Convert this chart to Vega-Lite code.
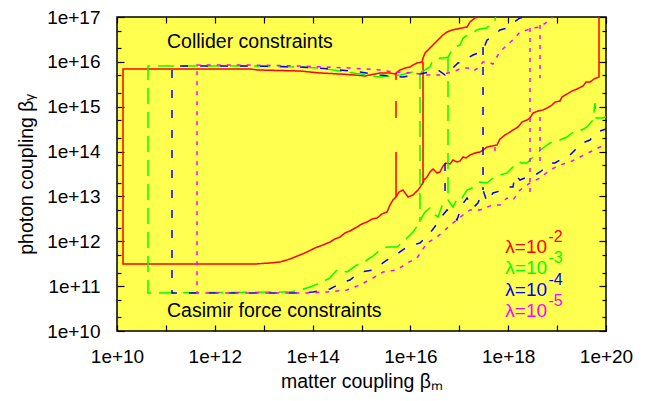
{
"$schema": "https://vega.github.io/schema/vega-lite/v6.json",
"width": 489, "height": 314,
"autosize": {"type": "none"},
"padding": {"left": 117, "top": 17, "right": 46, "bottom": 70},
"background": "white",
"config": {
  "view": {"fill": "#ffff50", "stroke": "black", "strokeWidth": 1.5},
  "axis": {"domain": false, "grid": false, "labelFont": "Liberation Sans", "labelFontSize": 19, "labelColor": "black", "tickColor": "black", "tickWidth": 1.2, "titleFont": "Liberation Sans", "titleFontSize": 19.5, "titleFontWeight": "normal", "titleColor": "black", "labelFlush": false, "labelOverlap": false},
  "text": {"font": "Liberation Sans"}
},
"datasets": {
"curves": [
{"lam":"1e-2","seg":"r1","i":0,"log_bm":19.857,"log_bg":17.267},
{"lam":"1e-2","seg":"r1","i":1,"log_bm":19.857,"log_bg":15.662},
{"lam":"1e-2","seg":"r1","i":2,"log_bm":19.755,"log_bg":15.618},
{"lam":"1e-2","seg":"r1","i":3,"log_bm":19.673,"log_bg":15.551},
{"lam":"1e-2","seg":"r1","i":4,"log_bm":19.591,"log_bg":15.551},
{"lam":"1e-2","seg":"r1","i":5,"log_bm":19.530,"log_bg":15.462},
{"lam":"1e-2","seg":"r1","i":6,"log_bm":19.407,"log_bg":15.395},
{"lam":"1e-2","seg":"r1","i":7,"log_bm":19.305,"log_bg":15.350},
{"lam":"1e-2","seg":"r1","i":8,"log_bm":19.203,"log_bg":15.284},
{"lam":"1e-2","seg":"r1","i":9,"log_bm":19.100,"log_bg":15.217},
{"lam":"1e-2","seg":"r1","i":10,"log_bm":19.059,"log_bg":15.127},
{"lam":"1e-2","seg":"r1","i":11,"log_bm":18.957,"log_bg":15.105},
{"lam":"1e-2","seg":"r1","i":12,"log_bm":18.896,"log_bg":15.038},
{"lam":"1e-2","seg":"r1","i":13,"log_bm":18.794,"log_bg":14.971},
{"lam":"1e-2","seg":"r1","i":14,"log_bm":18.712,"log_bg":14.927},
{"lam":"1e-2","seg":"r1","i":15,"log_bm":18.609,"log_bg":14.905},
{"lam":"1e-2","seg":"r1","i":16,"log_bm":18.507,"log_bg":14.860},
{"lam":"1e-2","seg":"r1","i":17,"log_bm":18.446,"log_bg":14.749},
{"lam":"1e-2","seg":"r1","i":18,"log_bm":18.385,"log_bg":14.704},
{"lam":"1e-2","seg":"r1","i":19,"log_bm":18.282,"log_bg":14.659},
{"lam":"1e-2","seg":"r1","i":20,"log_bm":18.200,"log_bg":14.548},
{"lam":"1e-2","seg":"r1","i":21,"log_bm":18.098,"log_bg":14.481},
{"lam":"1e-2","seg":"r1","i":22,"log_bm":18.037,"log_bg":14.436},
{"lam":"1e-2","seg":"r1","i":23,"log_bm":17.935,"log_bg":14.370},
{"lam":"1e-2","seg":"r1","i":24,"log_bm":17.832,"log_bg":14.280},
{"lam":"1e-2","seg":"r1","i":25,"log_bm":17.771,"log_bg":14.147},
{"lam":"1e-2","seg":"r1","i":26,"log_bm":17.669,"log_bg":14.124},
{"lam":"1e-2","seg":"r1","i":27,"log_bm":17.567,"log_bg":14.102},
{"lam":"1e-2","seg":"r1","i":28,"log_bm":17.485,"log_bg":14.035},
{"lam":"1e-2","seg":"r1","i":29,"log_bm":17.423,"log_bg":13.991},
{"lam":"1e-2","seg":"r1","i":30,"log_bm":17.321,"log_bg":13.968},
{"lam":"1e-2","seg":"r1","i":31,"log_bm":17.219,"log_bg":13.924},
{"lam":"1e-2","seg":"r1","i":32,"log_bm":17.137,"log_bg":13.857},
{"lam":"1e-2","seg":"r1","i":33,"log_bm":17.076,"log_bg":13.879},
{"lam":"1e-2","seg":"r1","i":34,"log_bm":17.014,"log_bg":13.790},
{"lam":"1e-2","seg":"r1","i":35,"log_bm":16.953,"log_bg":13.768},
{"lam":"1e-2","seg":"r1","i":36,"log_bm":16.871,"log_bg":13.812},
{"lam":"1e-2","seg":"r1","i":37,"log_bm":16.810,"log_bg":13.723},
{"lam":"1e-2","seg":"r1","i":38,"log_bm":16.728,"log_bg":13.745},
{"lam":"1e-2","seg":"r1","i":39,"log_bm":16.667,"log_bg":13.679},
{"lam":"1e-2","seg":"r1","i":40,"log_bm":16.605,"log_bg":13.545},
{"lam":"1e-2","seg":"r1","i":41,"log_bm":16.544,"log_bg":13.522},
{"lam":"1e-2","seg":"r1","i":42,"log_bm":16.462,"log_bg":13.612},
{"lam":"1e-2","seg":"r1","i":43,"log_bm":16.401,"log_bg":13.545},
{"lam":"1e-2","seg":"r1","i":44,"log_bm":16.340,"log_bg":13.433},
{"lam":"1e-2","seg":"r1","i":45,"log_bm":16.278,"log_bg":13.366},
{"lam":"1e-2","seg":"r1","i":46,"log_bm":16.258,"log_bg":13.300},
{"lam":"1e-2","seg":"r1","i":47,"log_bm":16.155,"log_bg":13.143},
{"lam":"1e-2","seg":"r1","i":48,"log_bm":16.053,"log_bg":13.032},
{"lam":"1e-2","seg":"r1","i":49,"log_bm":15.951,"log_bg":12.987},
{"lam":"1e-2","seg":"r1","i":50,"log_bm":15.849,"log_bg":13.143},
{"lam":"1e-2","seg":"r1","i":51,"log_bm":15.767,"log_bg":13.099},
{"lam":"1e-2","seg":"r1","i":52,"log_bm":15.706,"log_bg":12.987},
{"lam":"1e-2","seg":"r1","i":53,"log_bm":15.644,"log_bg":12.921},
{"lam":"1e-2","seg":"r1","i":54,"log_bm":15.583,"log_bg":12.809},
{"lam":"1e-2","seg":"r1","i":55,"log_bm":15.522,"log_bg":12.653},
{"lam":"1e-2","seg":"r1","i":56,"log_bm":15.419,"log_bg":12.609},
{"lam":"1e-2","seg":"r1","i":57,"log_bm":15.317,"log_bg":12.519},
{"lam":"1e-2","seg":"r1","i":58,"log_bm":15.215,"log_bg":12.497},
{"lam":"1e-2","seg":"r1","i":59,"log_bm":15.113,"log_bg":12.430},
{"lam":"1e-2","seg":"r1","i":60,"log_bm":15.010,"log_bg":12.386},
{"lam":"1e-2","seg":"r1","i":61,"log_bm":14.908,"log_bg":12.319},
{"lam":"1e-2","seg":"r1","i":62,"log_bm":14.765,"log_bg":12.230},
{"lam":"1e-2","seg":"r1","i":63,"log_bm":14.663,"log_bg":12.185},
{"lam":"1e-2","seg":"r1","i":64,"log_bm":14.560,"log_bg":12.096},
{"lam":"1e-2","seg":"r1","i":65,"log_bm":14.458,"log_bg":12.051},
{"lam":"1e-2","seg":"r1","i":66,"log_bm":14.356,"log_bg":11.984},
{"lam":"1e-2","seg":"r1","i":67,"log_bm":14.213,"log_bg":11.918},
{"lam":"1e-2","seg":"r1","i":68,"log_bm":14.049,"log_bg":11.851},
{"lam":"1e-2","seg":"r1","i":69,"log_bm":13.886,"log_bg":11.762},
{"lam":"1e-2","seg":"r1","i":70,"log_bm":13.742,"log_bg":11.695},
{"lam":"1e-2","seg":"r1","i":71,"log_bm":13.538,"log_bg":11.605},
{"lam":"1e-2","seg":"r1","i":72,"log_bm":13.333,"log_bg":11.538},
{"lam":"1e-2","seg":"r1","i":73,"log_bm":13.129,"log_bg":11.516},
{"lam":"1e-2","seg":"r1","i":74,"log_bm":12.822,"log_bg":11.494},
{"lam":"1e-2","seg":"r1","i":75,"log_bm":10.123,"log_bg":11.494},
{"lam":"1e-2","seg":"r1","i":76,"log_bm":10.123,"log_bg":15.841},
{"lam":"1e-2","seg":"r1","i":77,"log_bm":12.720,"log_bg":15.841},
{"lam":"1e-2","seg":"r1","i":78,"log_bm":12.883,"log_bg":15.819},
{"lam":"1e-2","seg":"r1","i":79,"log_bm":13.742,"log_bg":15.796},
{"lam":"1e-2","seg":"r1","i":80,"log_bm":14.151,"log_bg":15.752},
{"lam":"1e-2","seg":"r1","i":81,"log_bm":14.560,"log_bg":15.729},
{"lam":"1e-2","seg":"r1","i":82,"log_bm":14.867,"log_bg":15.707},
{"lam":"1e-2","seg":"r1","i":83,"log_bm":15.072,"log_bg":15.685},
{"lam":"1e-2","seg":"r1","i":84,"log_bm":15.378,"log_bg":15.752},
{"lam":"1e-2","seg":"r1","i":85,"log_bm":15.583,"log_bg":15.752},
{"lam":"1e-2","seg":"r1","i":86,"log_bm":15.685,"log_bg":15.729},
{"lam":"1e-2","seg":"r1","i":87,"log_bm":15.787,"log_bg":15.819},
{"lam":"1e-2","seg":"r1","i":88,"log_bm":15.890,"log_bg":15.863},
{"lam":"1e-2","seg":"r1","i":89,"log_bm":15.992,"log_bg":15.885},
{"lam":"1e-2","seg":"r1","i":90,"log_bm":16.053,"log_bg":15.930},
{"lam":"1e-2","seg":"r1","i":91,"log_bm":16.135,"log_bg":15.975},
{"lam":"1e-2","seg":"r1","i":92,"log_bm":16.237,"log_bg":15.997},
{"lam":"1e-2","seg":"r1","i":93,"log_bm":16.258,"log_bg":16.086},
{"lam":"1e-2","seg":"r1","i":94,"log_bm":16.299,"log_bg":16.197},
{"lam":"1e-2","seg":"r1","i":95,"log_bm":16.401,"log_bg":16.309},
{"lam":"1e-2","seg":"r1","i":96,"log_bm":16.503,"log_bg":16.420},
{"lam":"1e-2","seg":"r1","i":97,"log_bm":16.605,"log_bg":16.532},
{"lam":"1e-2","seg":"r1","i":98,"log_bm":16.667,"log_bg":16.599},
{"lam":"1e-2","seg":"r1","i":99,"log_bm":16.749,"log_bg":16.666},
{"lam":"1e-2","seg":"r1","i":100,"log_bm":16.851,"log_bg":16.710},
{"lam":"1e-2","seg":"r1","i":101,"log_bm":16.953,"log_bg":16.733},
{"lam":"1e-2","seg":"r1","i":102,"log_bm":17.055,"log_bg":16.755},
{"lam":"1e-2","seg":"r1","i":103,"log_bm":17.158,"log_bg":16.777},
{"lam":"1e-2","seg":"r1","i":104,"log_bm":17.219,"log_bg":16.889},
{"lam":"1e-2","seg":"r1","i":105,"log_bm":17.321,"log_bg":16.978},
{"lam":"1e-2","seg":"r1","i":106,"log_bm":17.423,"log_bg":17.000},
{"lam":"1e-2","seg":"r1","i":107,"log_bm":17.526,"log_bg":17.267},
{"lam":"1e-2","seg":"r2","i":0,"log_bm":16.258,"log_bg":15.997},
{"lam":"1e-2","seg":"r2","i":1,"log_bm":16.258,"log_bg":13.300},
{"lam":"1e-2","seg":"r3","i":0,"log_bm":15.706,"log_bg":15.752},
{"lam":"1e-2","seg":"r3","i":1,"log_bm":15.706,"log_bg":15.596},
{"lam":"1e-2","seg":"r4","i":0,"log_bm":15.706,"log_bg":15.127},
{"lam":"1e-2","seg":"r4","i":1,"log_bm":15.706,"log_bg":14.749},
{"lam":"1e-2","seg":"r5","i":0,"log_bm":15.706,"log_bg":13.991},
{"lam":"1e-2","seg":"r5","i":1,"log_bm":15.706,"log_bg":12.987},
{"lam":"1e-3","seg":"g1","i":0,"log_bm":17.791,"log_bg":17.267},
{"lam":"1e-3","seg":"g1","i":1,"log_bm":17.730,"log_bg":16.933},
{"lam":"1e-3","seg":"g1","i":2,"log_bm":17.628,"log_bg":16.844},
{"lam":"1e-3","seg":"g1","i":3,"log_bm":17.567,"log_bg":16.755},
{"lam":"1e-3","seg":"g1","i":4,"log_bm":17.423,"log_bg":16.733},
{"lam":"1e-3","seg":"g1","i":5,"log_bm":17.362,"log_bg":16.710},
{"lam":"1e-3","seg":"g1","i":6,"log_bm":17.260,"log_bg":16.643},
{"lam":"1e-3","seg":"g1","i":7,"log_bm":17.178,"log_bg":16.599},
{"lam":"1e-3","seg":"g1","i":8,"log_bm":17.076,"log_bg":16.532},
{"lam":"1e-3","seg":"g1","i":9,"log_bm":17.014,"log_bg":16.376},
{"lam":"1e-3","seg":"g1","i":10,"log_bm":16.912,"log_bg":16.331},
{"lam":"1e-3","seg":"g1","i":11,"log_bm":16.851,"log_bg":16.264},
{"lam":"1e-3","seg":"g1","i":12,"log_bm":16.769,"log_bg":16.108},
{"lam":"1e-3","seg":"g1","i":13,"log_bm":16.708,"log_bg":16.086},
{"lam":"1e-3","seg":"g1","i":14,"log_bm":16.605,"log_bg":16.086},
{"lam":"1e-3","seg":"g1","i":15,"log_bm":16.564,"log_bg":16.041},
{"lam":"1e-3","seg":"g1","i":16,"log_bm":16.442,"log_bg":15.997},
{"lam":"1e-3","seg":"g1","i":17,"log_bm":16.401,"log_bg":15.885},
{"lam":"1e-3","seg":"g1","i":18,"log_bm":16.299,"log_bg":15.819},
{"lam":"1e-3","seg":"g1","i":19,"log_bm":16.196,"log_bg":15.752},
{"lam":"1e-3","seg":"g1","i":20,"log_bm":16.053,"log_bg":15.774},
{"lam":"1e-3","seg":"g1","i":21,"log_bm":15.787,"log_bg":15.707},
{"lam":"1e-3","seg":"g1","i":22,"log_bm":15.378,"log_bg":15.662},
{"lam":"1e-3","seg":"g1","i":23,"log_bm":14.969,"log_bg":15.729},
{"lam":"1e-3","seg":"g1","i":24,"log_bm":14.560,"log_bg":15.796},
{"lam":"1e-3","seg":"g1","i":25,"log_bm":14.151,"log_bg":15.863},
{"lam":"1e-3","seg":"g1","i":26,"log_bm":13.742,"log_bg":15.885},
{"lam":"1e-3","seg":"g1","i":27,"log_bm":12.720,"log_bg":15.908},
{"lam":"1e-3","seg":"g1","i":28,"log_bm":10.634,"log_bg":15.908},
{"lam":"1e-3","seg":"g1","i":29,"log_bm":10.634,"log_bg":10.847},
{"lam":"1e-3","seg":"g1","i":30,"log_bm":13.538,"log_bg":10.870},
{"lam":"1e-3","seg":"g1","i":31,"log_bm":13.742,"log_bg":10.914},
{"lam":"1e-3","seg":"g1","i":32,"log_bm":13.947,"log_bg":10.981},
{"lam":"1e-3","seg":"g1","i":33,"log_bm":14.151,"log_bg":11.070},
{"lam":"1e-3","seg":"g1","i":34,"log_bm":14.356,"log_bg":11.182},
{"lam":"1e-3","seg":"g1","i":35,"log_bm":14.499,"log_bg":11.360},
{"lam":"1e-3","seg":"g1","i":36,"log_bm":14.704,"log_bg":11.316},
{"lam":"1e-3","seg":"g1","i":37,"log_bm":14.908,"log_bg":11.472},
{"lam":"1e-3","seg":"g1","i":38,"log_bm":15.113,"log_bg":11.583},
{"lam":"1e-3","seg":"g1","i":39,"log_bm":15.235,"log_bg":11.672},
{"lam":"1e-3","seg":"g1","i":40,"log_bm":15.378,"log_bg":11.806},
{"lam":"1e-3","seg":"g1","i":41,"log_bm":15.522,"log_bg":11.873},
{"lam":"1e-3","seg":"g1","i":42,"log_bm":15.726,"log_bg":11.873},
{"lam":"1e-3","seg":"g1","i":43,"log_bm":15.849,"log_bg":11.984},
{"lam":"1e-3","seg":"g1","i":44,"log_bm":15.931,"log_bg":12.073},
{"lam":"1e-3","seg":"g1","i":45,"log_bm":16.053,"log_bg":12.207},
{"lam":"1e-3","seg":"g1","i":46,"log_bm":16.155,"log_bg":12.363},
{"lam":"1e-3","seg":"g1","i":47,"log_bm":16.196,"log_bg":12.430},
{"lam":"1e-3","seg":"g1","i":48,"log_bm":16.237,"log_bg":12.542},
{"lam":"1e-3","seg":"g1","i":49,"log_bm":16.299,"log_bg":12.653},
{"lam":"1e-3","seg":"g1","i":50,"log_bm":16.401,"log_bg":12.742},
{"lam":"1e-3","seg":"g1","i":51,"log_bm":16.503,"log_bg":12.586},
{"lam":"1e-3","seg":"g1","i":52,"log_bm":16.564,"log_bg":12.542},
{"lam":"1e-3","seg":"g1","i":53,"log_bm":16.667,"log_bg":12.854},
{"lam":"1e-3","seg":"g1","i":54,"log_bm":16.769,"log_bg":12.921},
{"lam":"1e-3","seg":"g1","i":55,"log_bm":16.871,"log_bg":12.764},
{"lam":"1e-3","seg":"g1","i":56,"log_bm":16.974,"log_bg":12.987},
{"lam":"1e-3","seg":"g1","i":57,"log_bm":17.055,"log_bg":12.965},
{"lam":"1e-3","seg":"g1","i":58,"log_bm":17.158,"log_bg":13.143},
{"lam":"1e-3","seg":"g1","i":59,"log_bm":17.260,"log_bg":13.188},
{"lam":"1e-3","seg":"g1","i":60,"log_bm":17.423,"log_bg":13.322},
{"lam":"1e-3","seg":"g1","i":61,"log_bm":17.567,"log_bg":13.300},
{"lam":"1e-3","seg":"g1","i":62,"log_bm":17.689,"log_bg":13.411},
{"lam":"1e-3","seg":"g1","i":63,"log_bm":17.832,"log_bg":13.478},
{"lam":"1e-3","seg":"g1","i":64,"log_bm":17.976,"log_bg":13.522},
{"lam":"1e-3","seg":"g1","i":65,"log_bm":18.098,"log_bg":13.656},
{"lam":"1e-3","seg":"g1","i":66,"log_bm":18.200,"log_bg":13.768},
{"lam":"1e-3","seg":"g1","i":67,"log_bm":18.282,"log_bg":13.745},
{"lam":"1e-3","seg":"g1","i":68,"log_bm":18.385,"log_bg":13.745},
{"lam":"1e-3","seg":"g1","i":69,"log_bm":18.487,"log_bg":13.857},
{"lam":"1e-3","seg":"g1","i":70,"log_bm":18.589,"log_bg":13.968},
{"lam":"1e-3","seg":"g1","i":71,"log_bm":18.712,"log_bg":14.080},
{"lam":"1e-3","seg":"g1","i":72,"log_bm":18.855,"log_bg":14.191},
{"lam":"1e-3","seg":"g1","i":73,"log_bm":18.957,"log_bg":14.236},
{"lam":"1e-3","seg":"g1","i":74,"log_bm":19.059,"log_bg":14.258},
{"lam":"1e-3","seg":"g1","i":75,"log_bm":19.203,"log_bg":14.325},
{"lam":"1e-3","seg":"g1","i":76,"log_bm":19.305,"log_bg":14.414},
{"lam":"1e-3","seg":"g1","i":77,"log_bm":19.407,"log_bg":14.481},
{"lam":"1e-3","seg":"g1","i":78,"log_bm":19.509,"log_bg":14.481},
{"lam":"1e-3","seg":"g1","i":79,"log_bm":19.611,"log_bg":14.548},
{"lam":"1e-3","seg":"g1","i":80,"log_bm":19.734,"log_bg":14.704},
{"lam":"1e-3","seg":"g1","i":81,"log_bm":19.775,"log_bg":15.083},
{"lam":"1e-3","seg":"g1","i":82,"log_bm":19.796,"log_bg":14.749},
{"lam":"1e-3","seg":"g1","i":83,"log_bm":19.918,"log_bg":14.749},
{"lam":"1e-3","seg":"g1","i":84,"log_bm":20.000,"log_bg":14.771},
{"lam":"1e-3","seg":"g1","i":85,"log_bm":20.184,"log_bg":14.815},
{"lam":"1e-3","seg":"g2","i":0,"log_bm":16.196,"log_bg":15.752},
{"lam":"1e-3","seg":"g2","i":1,"log_bm":16.196,"log_bg":12.430},
{"lam":"1e-3","seg":"g3","i":0,"log_bm":16.769,"log_bg":16.108},
{"lam":"1e-3","seg":"g3","i":1,"log_bm":16.769,"log_bg":12.921},
{"lam":"1e-4","seg":"b1","i":0,"log_bm":18.446,"log_bg":17.267},
{"lam":"1e-4","seg":"b1","i":1,"log_bm":18.446,"log_bg":17.000},
{"lam":"1e-4","seg":"b1","i":2,"log_bm":18.241,"log_bg":16.978},
{"lam":"1e-4","seg":"b1","i":3,"log_bm":18.098,"log_bg":16.866},
{"lam":"1e-4","seg":"b1","i":4,"log_bm":17.976,"log_bg":16.755},
{"lam":"1e-4","seg":"b1","i":5,"log_bm":17.832,"log_bg":16.710},
{"lam":"1e-4","seg":"b1","i":6,"log_bm":17.669,"log_bg":16.554},
{"lam":"1e-4","seg":"b1","i":7,"log_bm":17.567,"log_bg":16.487},
{"lam":"1e-4","seg":"b1","i":8,"log_bm":17.485,"log_bg":16.264},
{"lam":"1e-4","seg":"b1","i":9,"log_bm":17.382,"log_bg":16.197},
{"lam":"1e-4","seg":"b1","i":10,"log_bm":17.280,"log_bg":16.153},
{"lam":"1e-4","seg":"b1","i":11,"log_bm":17.178,"log_bg":16.086},
{"lam":"1e-4","seg":"b1","i":12,"log_bm":17.076,"log_bg":15.997},
{"lam":"1e-4","seg":"b1","i":13,"log_bm":16.974,"log_bg":15.975},
{"lam":"1e-4","seg":"b1","i":14,"log_bm":16.871,"log_bg":15.863},
{"lam":"1e-4","seg":"b1","i":15,"log_bm":16.810,"log_bg":15.863},
{"lam":"1e-4","seg":"b1","i":16,"log_bm":16.708,"log_bg":15.707},
{"lam":"1e-4","seg":"b1","i":17,"log_bm":16.564,"log_bg":15.819},
{"lam":"1e-4","seg":"b1","i":18,"log_bm":16.401,"log_bg":15.774},
{"lam":"1e-4","seg":"b1","i":19,"log_bm":16.196,"log_bg":15.729},
{"lam":"1e-4","seg":"b1","i":20,"log_bm":15.849,"log_bg":15.662},
{"lam":"1e-4","seg":"b1","i":21,"log_bm":15.378,"log_bg":15.707},
{"lam":"1e-4","seg":"b1","i":22,"log_bm":14.969,"log_bg":15.774},
{"lam":"1e-4","seg":"b1","i":23,"log_bm":14.356,"log_bg":15.841},
{"lam":"1e-4","seg":"b1","i":24,"log_bm":13.742,"log_bg":15.885},
{"lam":"1e-4","seg":"b1","i":25,"log_bm":12.720,"log_bg":15.908},
{"lam":"1e-4","seg":"b1","i":26,"log_bm":11.125,"log_bg":15.908},
{"lam":"1e-4","seg":"b1","i":27,"log_bm":11.125,"log_bg":10.847},
{"lam":"1e-4","seg":"b1","i":28,"log_bm":13.742,"log_bg":10.847},
{"lam":"1e-4","seg":"b1","i":29,"log_bm":14.008,"log_bg":10.870},
{"lam":"1e-4","seg":"b1","i":30,"log_bm":14.356,"log_bg":10.937},
{"lam":"1e-4","seg":"b1","i":31,"log_bm":14.622,"log_bg":11.093},
{"lam":"1e-4","seg":"b1","i":32,"log_bm":14.765,"log_bg":11.137},
{"lam":"1e-4","seg":"b1","i":33,"log_bm":14.969,"log_bg":11.316},
{"lam":"1e-4","seg":"b1","i":34,"log_bm":15.235,"log_bg":11.360},
{"lam":"1e-4","seg":"b1","i":35,"log_bm":15.378,"log_bg":11.472},
{"lam":"1e-4","seg":"b1","i":36,"log_bm":15.522,"log_bg":11.583},
{"lam":"1e-4","seg":"b1","i":37,"log_bm":15.644,"log_bg":11.650},
{"lam":"1e-4","seg":"b1","i":38,"log_bm":15.787,"log_bg":11.762},
{"lam":"1e-4","seg":"b1","i":39,"log_bm":15.931,"log_bg":11.873},
{"lam":"1e-4","seg":"b1","i":40,"log_bm":16.053,"log_bg":11.918},
{"lam":"1e-4","seg":"b1","i":41,"log_bm":16.196,"log_bg":11.962},
{"lam":"1e-4","seg":"b1","i":42,"log_bm":16.401,"log_bg":12.185},
{"lam":"1e-4","seg":"b1","i":43,"log_bm":16.605,"log_bg":12.475},
{"lam":"1e-4","seg":"b1","i":44,"log_bm":16.667,"log_bg":12.586},
{"lam":"1e-4","seg":"b1","i":45,"log_bm":16.749,"log_bg":12.698},
{"lam":"1e-4","seg":"b1","i":46,"log_bm":16.871,"log_bg":12.631},
{"lam":"1e-4","seg":"b1","i":47,"log_bm":16.953,"log_bg":12.475},
{"lam":"1e-4","seg":"b1","i":48,"log_bm":17.055,"log_bg":12.809},
{"lam":"1e-4","seg":"b1","i":49,"log_bm":17.158,"log_bg":12.965},
{"lam":"1e-4","seg":"b1","i":50,"log_bm":17.280,"log_bg":12.742},
{"lam":"1e-4","seg":"b1","i":51,"log_bm":17.382,"log_bg":12.854},
{"lam":"1e-4","seg":"b1","i":52,"log_bm":17.485,"log_bg":13.143},
{"lam":"1e-4","seg":"b1","i":53,"log_bm":17.567,"log_bg":12.876},
{"lam":"1e-4","seg":"b1","i":54,"log_bm":17.689,"log_bg":13.077},
{"lam":"1e-4","seg":"b1","i":55,"log_bm":17.832,"log_bg":13.121},
{"lam":"1e-4","seg":"b1","i":56,"log_bm":17.976,"log_bg":13.210},
{"lam":"1e-4","seg":"b1","i":57,"log_bm":18.098,"log_bg":13.210},
{"lam":"1e-4","seg":"b1","i":58,"log_bm":18.139,"log_bg":13.478},
{"lam":"1e-4","seg":"b1","i":59,"log_bm":18.241,"log_bg":13.366},
{"lam":"1e-4","seg":"b1","i":60,"log_bm":18.344,"log_bg":13.411},
{"lam":"1e-4","seg":"b1","i":61,"log_bm":18.446,"log_bg":13.433},
{"lam":"1e-4","seg":"b1","i":62,"log_bm":18.548,"log_bg":13.478},
{"lam":"1e-4","seg":"b1","i":63,"log_bm":18.650,"log_bg":13.545},
{"lam":"1e-4","seg":"b1","i":64,"log_bm":18.753,"log_bg":13.634},
{"lam":"1e-4","seg":"b1","i":65,"log_bm":18.855,"log_bg":13.745},
{"lam":"1e-4","seg":"b1","i":66,"log_bm":18.957,"log_bg":13.745},
{"lam":"1e-4","seg":"b1","i":67,"log_bm":19.059,"log_bg":13.812},
{"lam":"1e-4","seg":"b1","i":68,"log_bm":19.162,"log_bg":13.879},
{"lam":"1e-4","seg":"b1","i":69,"log_bm":19.264,"log_bg":13.924},
{"lam":"1e-4","seg":"b1","i":70,"log_bm":19.366,"log_bg":14.035},
{"lam":"1e-4","seg":"b1","i":71,"log_bm":19.468,"log_bg":14.191},
{"lam":"1e-4","seg":"b1","i":72,"log_bm":19.571,"log_bg":14.214},
{"lam":"1e-4","seg":"b1","i":73,"log_bm":19.673,"log_bg":14.258},
{"lam":"1e-4","seg":"b1","i":74,"log_bm":19.816,"log_bg":14.436},
{"lam":"1e-4","seg":"b1","i":75,"log_bm":19.939,"log_bg":14.481},
{"lam":"1e-4","seg":"b1","i":76,"log_bm":20.000,"log_bg":14.503},
{"lam":"1e-4","seg":"b1","i":77,"log_bm":20.184,"log_bg":14.570},
{"lam":"1e-4","seg":"b2","i":0,"log_bm":17.485,"log_bg":16.331},
{"lam":"1e-4","seg":"b2","i":1,"log_bm":17.485,"log_bg":13.143},
{"lam":"1e-4","seg":"b3","i":0,"log_bm":16.708,"log_bg":13.745},
{"lam":"1e-4","seg":"b3","i":1,"log_bm":16.708,"log_bg":12.921},
{"lam":"1e-5","seg":"m1","i":0,"log_bm":18.916,"log_bg":17.267},
{"lam":"1e-5","seg":"m1","i":1,"log_bm":18.916,"log_bg":17.000},
{"lam":"1e-5","seg":"m1","i":2,"log_bm":18.794,"log_bg":16.889},
{"lam":"1e-5","seg":"m1","i":3,"log_bm":18.650,"log_bg":16.777},
{"lam":"1e-5","seg":"m1","i":4,"log_bm":18.507,"log_bg":16.755},
{"lam":"1e-5","seg":"m1","i":5,"log_bm":18.385,"log_bg":16.710},
{"lam":"1e-5","seg":"m1","i":6,"log_bm":18.241,"log_bg":16.666},
{"lam":"1e-5","seg":"m1","i":7,"log_bm":18.139,"log_bg":16.532},
{"lam":"1e-5","seg":"m1","i":8,"log_bm":17.976,"log_bg":16.376},
{"lam":"1e-5","seg":"m1","i":9,"log_bm":17.832,"log_bg":16.220},
{"lam":"1e-5","seg":"m1","i":10,"log_bm":17.791,"log_bg":16.153},
{"lam":"1e-5","seg":"m1","i":11,"log_bm":17.689,"log_bg":15.952},
{"lam":"1e-5","seg":"m1","i":12,"log_bm":17.587,"log_bg":15.997},
{"lam":"1e-5","seg":"m1","i":13,"log_bm":17.485,"log_bg":15.997},
{"lam":"1e-5","seg":"m1","i":14,"log_bm":17.382,"log_bg":15.863},
{"lam":"1e-5","seg":"m1","i":15,"log_bm":17.280,"log_bg":15.796},
{"lam":"1e-5","seg":"m1","i":16,"log_bm":17.178,"log_bg":15.863},
{"lam":"1e-5","seg":"m1","i":17,"log_bm":17.076,"log_bg":15.863},
{"lam":"1e-5","seg":"m1","i":18,"log_bm":16.851,"log_bg":15.774},
{"lam":"1e-5","seg":"m1","i":19,"log_bm":16.605,"log_bg":15.707},
{"lam":"1e-5","seg":"m1","i":20,"log_bm":16.340,"log_bg":15.707},
{"lam":"1e-5","seg":"m1","i":21,"log_bm":16.053,"log_bg":15.752},
{"lam":"1e-5","seg":"m1","i":22,"log_bm":15.644,"log_bg":15.774},
{"lam":"1e-5","seg":"m1","i":23,"log_bm":15.378,"log_bg":15.819},
{"lam":"1e-5","seg":"m1","i":24,"log_bm":14.765,"log_bg":15.863},
{"lam":"1e-5","seg":"m1","i":25,"log_bm":13.742,"log_bg":15.908},
{"lam":"1e-5","seg":"m1","i":26,"log_bm":12.720,"log_bg":15.930},
{"lam":"1e-5","seg":"m1","i":27,"log_bm":11.636,"log_bg":15.930},
{"lam":"1e-5","seg":"m1","i":28,"log_bm":11.636,"log_bg":10.847},
{"lam":"1e-5","seg":"m1","i":29,"log_bm":13.865,"log_bg":10.847},
{"lam":"1e-5","seg":"m1","i":30,"log_bm":14.295,"log_bg":10.870},
{"lam":"1e-5","seg":"m1","i":31,"log_bm":14.704,"log_bg":10.914},
{"lam":"1e-5","seg":"m1","i":32,"log_bm":14.969,"log_bg":11.026},
{"lam":"1e-5","seg":"m1","i":33,"log_bm":15.235,"log_bg":11.182},
{"lam":"1e-5","seg":"m1","i":34,"log_bm":15.440,"log_bg":11.316},
{"lam":"1e-5","seg":"m1","i":35,"log_bm":15.726,"log_bg":11.360},
{"lam":"1e-5","seg":"m1","i":36,"log_bm":15.931,"log_bg":11.516},
{"lam":"1e-5","seg":"m1","i":37,"log_bm":16.135,"log_bg":11.628},
{"lam":"1e-5","seg":"m1","i":38,"log_bm":16.340,"log_bg":11.962},
{"lam":"1e-5","seg":"m1","i":39,"log_bm":16.544,"log_bg":12.096},
{"lam":"1e-5","seg":"m1","i":40,"log_bm":16.708,"log_bg":12.252},
{"lam":"1e-5","seg":"m1","i":41,"log_bm":16.871,"log_bg":12.408},
{"lam":"1e-5","seg":"m1","i":42,"log_bm":17.076,"log_bg":12.586},
{"lam":"1e-5","seg":"m1","i":43,"log_bm":17.219,"log_bg":12.698},
{"lam":"1e-5","seg":"m1","i":44,"log_bm":17.423,"log_bg":12.698},
{"lam":"1e-5","seg":"m1","i":45,"log_bm":17.567,"log_bg":12.764},
{"lam":"1e-5","seg":"m1","i":46,"log_bm":17.689,"log_bg":12.809},
{"lam":"1e-5","seg":"m1","i":47,"log_bm":17.832,"log_bg":12.809},
{"lam":"1e-5","seg":"m1","i":48,"log_bm":17.976,"log_bg":12.965},
{"lam":"1e-5","seg":"m1","i":49,"log_bm":18.098,"log_bg":12.921},
{"lam":"1e-5","seg":"m1","i":50,"log_bm":18.200,"log_bg":13.077},
{"lam":"1e-5","seg":"m1","i":51,"log_bm":18.241,"log_bg":13.143},
{"lam":"1e-5","seg":"m1","i":52,"log_bm":18.446,"log_bg":13.300},
{"lam":"1e-5","seg":"m1","i":53,"log_bm":18.650,"log_bg":13.411},
{"lam":"1e-5","seg":"m1","i":54,"log_bm":18.855,"log_bg":13.589},
{"lam":"1e-5","seg":"m1","i":55,"log_bm":19.059,"log_bg":13.701},
{"lam":"1e-5","seg":"m1","i":56,"log_bm":19.264,"log_bg":13.768},
{"lam":"1e-5","seg":"m1","i":57,"log_bm":19.468,"log_bg":13.879},
{"lam":"1e-5","seg":"m1","i":58,"log_bm":19.673,"log_bg":13.991},
{"lam":"1e-5","seg":"m1","i":59,"log_bm":19.877,"log_bg":14.102},
{"lam":"1e-5","seg":"m1","i":60,"log_bm":20.000,"log_bg":14.147},
{"lam":"1e-5","seg":"m1","i":61,"log_bm":20.184,"log_bg":14.191},
{"lam":"1e-5","seg":"m2","i":0,"log_bm":18.446,"log_bg":16.755},
{"lam":"1e-5","seg":"m2","i":1,"log_bm":18.446,"log_bg":13.032},
{"lam":"1e-5","seg":"m3","i":0,"log_bm":18.650,"log_bg":16.822},
{"lam":"1e-5","seg":"m3","i":1,"log_bm":18.650,"log_bg":15.640},
{"lam":"1e-5","seg":"m4","i":0,"log_bm":18.650,"log_bg":14.771},
{"lam":"1e-5","seg":"m4","i":1,"log_bm":18.650,"log_bg":13.656},
{"lam":"1e-5","seg":"m5","i":0,"log_bm":17.730,"log_bg":14.102},
{"lam":"1e-5","seg":"m5","i":1,"log_bm":17.730,"log_bg":13.879}
]
},
"resolve": {"axis": {"x": "independent", "y": "independent"}},
"layer": [
{
  "data": {"name": "curves"},
  "mark": {"type": "line", "clip": true, "strokeWidth": 1.5},
  "encoding": {
    "x": {"field": "log_bm", "type": "quantitative", "scale": {"domain": [10, 20], "nice": false, "zero": false},
          "axis": {"orient": "bottom", "values": [10,11,12,13,14,15,16,17,18,19,20], "labelExpr": "datum.value % 2 == 0 ? '1e+' + datum.value : ''", "tickSize": -6, "labelPadding": 22, "title": "matter coupling βₘ", "titlePadding": 6}},
    "y": {"field": "log_bg", "type": "quantitative", "scale": {"domain": [10, 17], "nice": false, "zero": false},
          "axis": {"orient": "left", "values": [10,11,12,13,14,15,16,17], "labelExpr": "'1e+' + datum.value", "tickSize": -7, "labelPadding": 24, "title": "photon coupling βᵧ", "titlePadding": 10}},
    "color": {"field": "lam", "type": "nominal", "scale": {"domain": ["1e-2","1e-3","1e-4","1e-5"], "range": ["#ff0000","#00ff00","#0000ff","#ff00ff"]}, "legend": null},
    "strokeDash": {"field": "lam", "type": "nominal", "scale": {"domain": ["1e-2","1e-3","1e-4","1e-5"], "range": [[1,0],[16,8],[8,12],[4,6]]}, "legend": null},
    "detail": {"field": "seg", "type": "nominal"},
    "order": {"field": "i", "type": "quantitative"}
  }
},
{
  "data": {"values": [{}]},
  "mark": {"type": "text", "text": "Collider constraints", "align": "left", "baseline": "alphabetic", "fontSize": 19.5, "color": "black"},
  "encoding": {
    "x": {"datum": 11.023, "type": "quantitative", "scale": {"domain": [10, 20], "nice": false, "zero": false}, "axis": {"orient": "top", "values": [10,11,12,13,14,15,16,17,18,19,20], "labels": false, "tickSize": -6, "title": null}},
    "y": {"datum": 16.309, "type": "quantitative", "scale": {"domain": [10, 17], "nice": false, "zero": false}, "axis": {"orient": "right", "values": [10,11,12,13,14,15,16,17], "labels": false, "tickSize": -7, "title": null}}
  }
},
{
  "data": {"values": [{}]},
  "mark": {"type": "text", "text": "Casimir force constraints", "align": "left", "baseline": "alphabetic", "fontSize": 19.5, "color": "black"},
  "encoding": {
    "x": {"datum": 11.023, "type": "quantitative", "scale": {"domain": [10, 20], "nice": false, "zero": false}, "axis": null},
    "y": {"datum": 10.319, "type": "quantitative", "scale": {"domain": [10, 17], "nice": false, "zero": false}, "axis": {"orient": "left", "values": [10.301,10.699,11.301,11.699,12.301,12.699,13.301,13.699,14.301,14.699,15.301,15.699,16.301,16.699], "labels": false, "tickSize": -4, "title": null}}
  }
},
{
  "data": {"values": [{}]},
  "mark": {"type": "text", "text": "λ=10", "align": "right", "baseline": "alphabetic", "fontSize": 19, "color": "#ff0000"},
  "encoding": {
    "x": {"datum": 18.794, "type": "quantitative", "scale": {"domain": [10, 20], "nice": false, "zero": false}, "axis": null},
    "y": {"datum": 11.75, "type": "quantitative", "scale": {"domain": [10, 17], "nice": false, "zero": false}, "axis": {"orient": "right", "values": [10.301,10.699,11.301,11.699,12.301,12.699,13.301,13.699,14.301,14.699,15.301,15.699,16.301,16.699], "labels": false, "tickSize": -4, "title": null}}
  }
},
{
  "data": {"values": [{}]},
  "mark": {"type": "text", "text": "-2", "align": "left", "baseline": "alphabetic", "fontSize": 16, "dy": -11, "color": "#ff0000"},
  "encoding": {
    "x": {"datum": 18.824, "type": "quantitative", "scale": {"domain": [10, 20], "nice": false, "zero": false}, "axis": null},
    "y": {"datum": 11.75, "type": "quantitative", "scale": {"domain": [10, 17], "nice": false, "zero": false}, "axis": null}
  }
},
{
  "data": {"values": [{}]},
  "mark": {"type": "text", "text": "λ=10", "align": "right", "baseline": "alphabetic", "fontSize": 19, "color": "#00ff00"},
  "encoding": {
    "x": {"datum": 18.794, "type": "quantitative", "scale": {"domain": [10, 20], "nice": false, "zero": false}, "axis": null},
    "y": {"datum": 11.27, "type": "quantitative", "scale": {"domain": [10, 17], "nice": false, "zero": false}, "axis": null}
  }
},
{
  "data": {"values": [{}]},
  "mark": {"type": "text", "text": "-3", "align": "left", "baseline": "alphabetic", "fontSize": 16, "dy": -11, "color": "#00ff00"},
  "encoding": {
    "x": {"datum": 18.824, "type": "quantitative", "scale": {"domain": [10, 20], "nice": false, "zero": false}, "axis": null},
    "y": {"datum": 11.27, "type": "quantitative", "scale": {"domain": [10, 17], "nice": false, "zero": false}, "axis": null}
  }
},
{
  "data": {"values": [{}]},
  "mark": {"type": "text", "text": "λ=10", "align": "right", "baseline": "alphabetic", "fontSize": 19, "color": "#0000ff"},
  "encoding": {
    "x": {"datum": 18.794, "type": "quantitative", "scale": {"domain": [10, 20], "nice": false, "zero": false}, "axis": null},
    "y": {"datum": 10.79, "type": "quantitative", "scale": {"domain": [10, 17], "nice": false, "zero": false}, "axis": null}
  }
},
{
  "data": {"values": [{}]},
  "mark": {"type": "text", "text": "-4", "align": "left", "baseline": "alphabetic", "fontSize": 16, "dy": -11, "color": "#0000ff"},
  "encoding": {
    "x": {"datum": 18.824, "type": "quantitative", "scale": {"domain": [10, 20], "nice": false, "zero": false}, "axis": null},
    "y": {"datum": 10.79, "type": "quantitative", "scale": {"domain": [10, 17], "nice": false, "zero": false}, "axis": null}
  }
},
{
  "data": {"values": [{}]},
  "mark": {"type": "text", "text": "λ=10", "align": "right", "baseline": "alphabetic", "fontSize": 19, "color": "#ff00ff"},
  "encoding": {
    "x": {"datum": 18.794, "type": "quantitative", "scale": {"domain": [10, 20], "nice": false, "zero": false}, "axis": null},
    "y": {"datum": 10.31, "type": "quantitative", "scale": {"domain": [10, 17], "nice": false, "zero": false}, "axis": null}
  }
},
{
  "data": {"values": [{}]},
  "mark": {"type": "text", "text": "-5", "align": "left", "baseline": "alphabetic", "fontSize": 16, "dy": -11, "color": "#ff00ff"},
  "encoding": {
    "x": {"datum": 18.824, "type": "quantitative", "scale": {"domain": [10, 20], "nice": false, "zero": false}, "axis": null},
    "y": {"datum": 10.31, "type": "quantitative", "scale": {"domain": [10, 17], "nice": false, "zero": false}, "axis": null}
  }
}
]
}
